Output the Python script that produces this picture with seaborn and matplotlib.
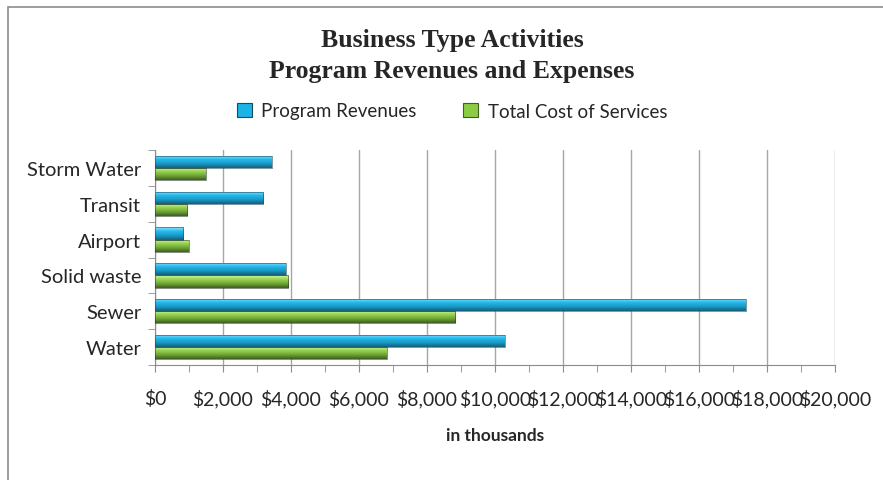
import numpy as np
import pandas as pd
import matplotlib
matplotlib.use("Agg")
import matplotlib.pyplot as plt
from matplotlib.ticker import MultipleLocator, FuncFormatter
from matplotlib.patches import Rectangle
import seaborn as sns

# Datos (en miles de $)
actividades = ["Storm Water", "Transit", "Airport", "Solid waste", "Sewer", "Water"]
ingresos_programa = [3430, 3190, 830, 3850, 17370, 10290]
costo_total = [1500, 950, 990, 3920, 8830, 6810]
series = ["Program Revenues", "Total Cost of Services"]

df = pd.DataFrame({
    "actividad": actividades * 2,
    "serie": [series[0]] * len(actividades) + [series[1]] * len(actividades),
    "valor": ingresos_programa + costo_total,
})

sns.set_style("white")
plt.rcParams["font.family"] = ["Lato", "DejaVu Sans"]

fig = plt.figure(figsize=(8.83, 4.81), dpi=100)
ax = fig.add_axes([155 / 883, 1 - 366 / 481, 680 / 883, 215 / 481])

colores = {series[0]: "#1cb3e6", series[1]: "#8ccc44"}
sns.barplot(data=df, y="actividad", x="valor", hue="serie", order=actividades,
            hue_order=series, palette=colores, orient="h", width=0.68,
            saturation=1, ax=ax, legend=False)

# Efecto "bisel" con degradado vertical dentro de cada barra
gradientes = {
    series[0]: ["#8fe6ff", "#22b9ec", "#1a98c4", "#145f7c"],
    series[1]: ["#d6f7a0", "#97d450", "#6fa536", "#3f5f1e"],
}
n = len(actividades)
for i, p in enumerate(ax.patches[: 2 * n]):
    s = series[i // n]
    cmap = matplotlib.colors.LinearSegmentedColormap.from_list("g", gradientes[s])
    x0, y0 = p.get_x(), p.get_y()
    w, h = p.get_width(), p.get_height()
    grad = np.linspace(0, 1, 64).reshape(-1, 1)
    im = ax.imshow(grad, cmap=cmap, aspect="auto", extent=[x0, x0 + w, y0, y0 + h],
                   origin="lower", zorder=3)
    im.set_clip_path(p)
    p.set_edgecolor("#2a3a2a" if s == series[1] else "#174a5e")
    p.set_linewidth(0.4)
    p.set_zorder(4)
    p.set_facecolor("none")

ax.set_xlim(0, 20000)
ax.set_ylim(n - 0.5, -0.5)
ax.xaxis.set_major_locator(MultipleLocator(2000))
ax.xaxis.set_minor_locator(MultipleLocator(1000))
ax.xaxis.set_major_formatter(FuncFormatter(lambda v, _: f"${v:,.0f}"))
ax.grid(axis="x", color="#a6a6a6", linewidth=1, zorder=0)
ax.set_axisbelow(True)

for lado in ["top", "right"]:
    ax.spines[lado].set_visible(False)
ax.spines["left"].set_color("#8c8c8c")
ax.spines["bottom"].set_color("#8c8c8c")
ax.tick_params(axis="x", which="both", direction="out", length=5, color="#8c8c8c",
               labelsize=14, pad=12, bottom=True)
ax.tick_params(axis="y", length=0, labelsize=14.5, pad=10)
ax.set_yticks(np.arange(n + 1) - 0.5, minor=True)
ax.tick_params(axis="y", which="minor", left=True, length=5, color="#8c8c8c")

ax.set_ylabel("")
ax.set_xlabel("in thousands", fontsize=12.5, fontweight="bold", labelpad=14)

fig.suptitle("Business Type Activities\nProgram Revenues and Expenses",
             x=452 / 883, y=1 - 29 / 481, fontsize=18.5, fontweight="bold",
             family="Liberation Serif", linespacing=1.45, va="top")

# Leyenda
handles = [Rectangle((0, 0), 1, 1, facecolor=colores[s],
                     edgecolor="#1a4a5e" if i == 0 else "#3f5f1e", linewidth=0.8)
           for i, s in enumerate(series)]
fig.legend(handles, series, loc="center", bbox_to_anchor=(452 / 883, 1 - 112 / 481),
           ncol=2, frameon=False, fontsize=13.5, handlelength=0.8, handleheight=0.8,
           handletextpad=0.5, columnspacing=2.5)

# Marco exterior del gráfico
fig.patches.append(Rectangle((8 / 883, -0.1), 1.2, 1 - 8 / 481 + 0.1,
                             transform=fig.transFigure, fill=False,
                             edgecolor="#8c8c8c", linewidth=1.2))

fig.savefig("out.png", dpi=100)
